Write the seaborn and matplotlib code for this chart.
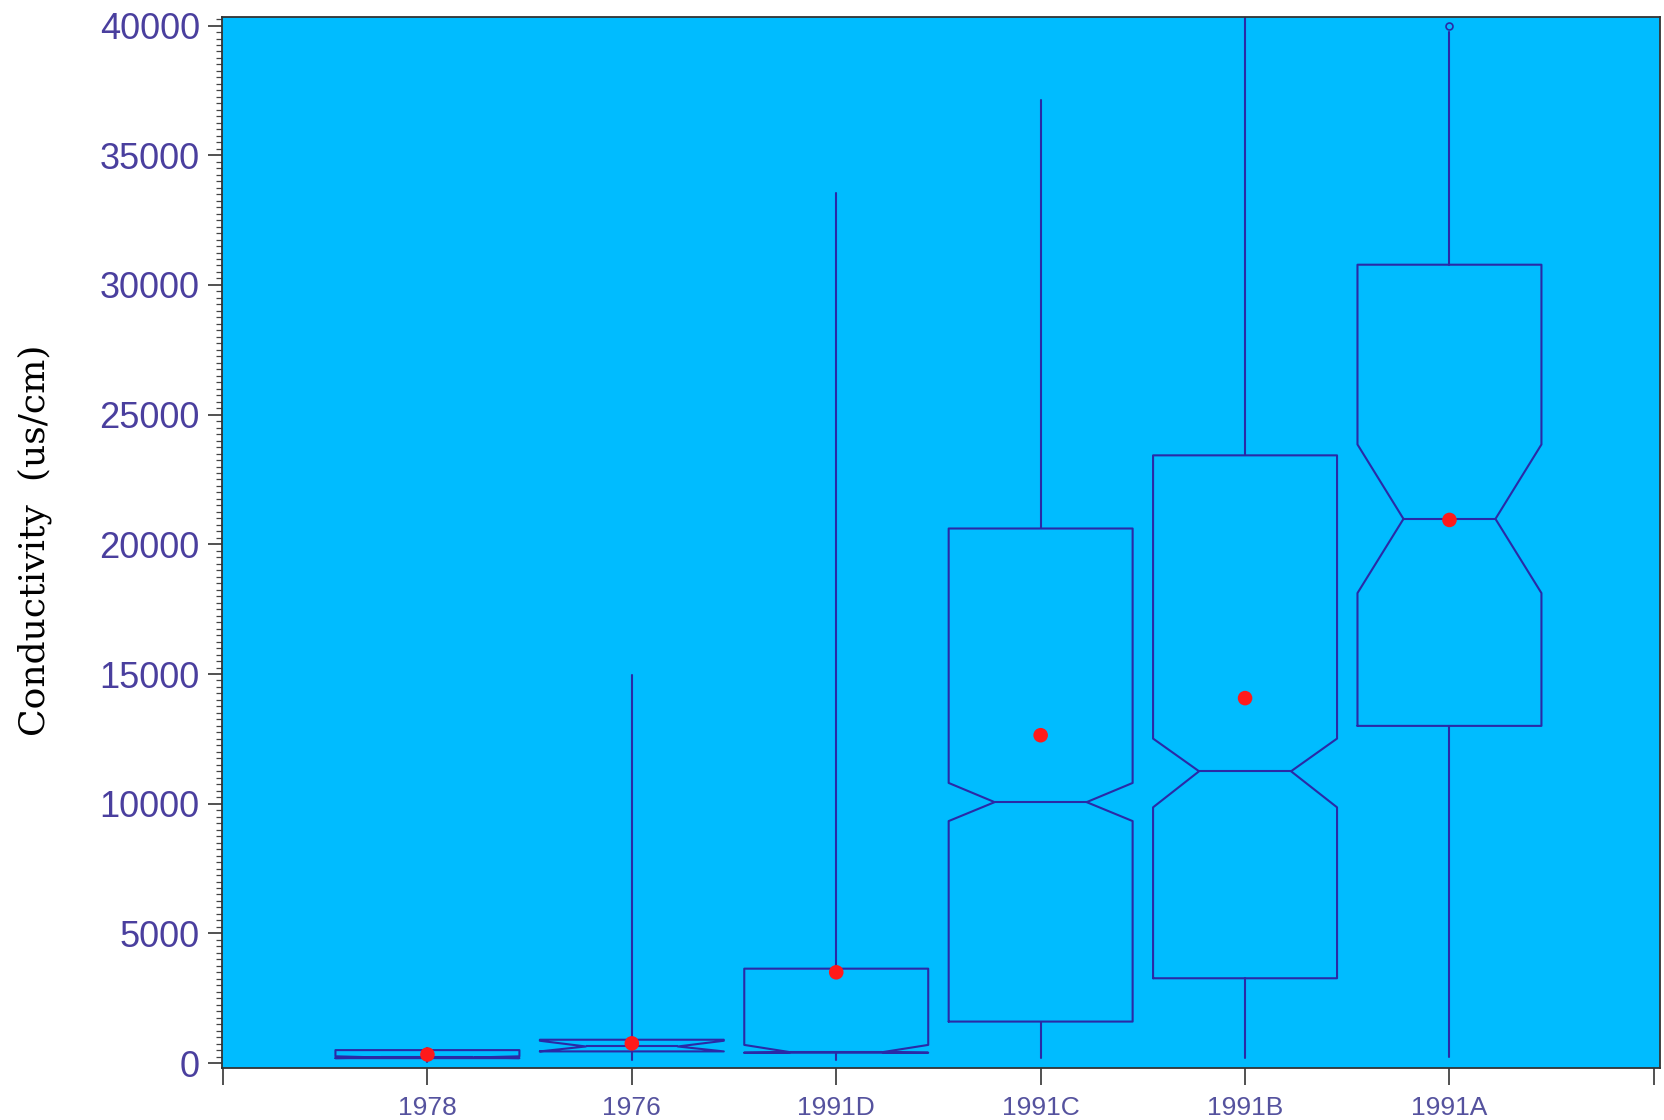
import numpy as np
import pandas as pd
import matplotlib
matplotlib.use("Agg")
import matplotlib.pyplot as plt
import seaborn as sns
from matplotlib.ticker import MultipleLocator, FixedLocator

# ---- data ----
sites = ["1978", "1976", "1991D", "1991C", "1991B", "1991A"]
q1 = [190, 450, 400, 1600, 3270, 13000]
median = [215, 640, 420, 10060, 11250, 20980]
q3 = [500, 900, 3640, 20610, 23430, 30780]
notch_lo = [190, 450, 400, 9330, 9860, 18120]
notch_hi = [260, 860, 700, 10800, 12510, 23850]
whisker_lo = [60, 100, 120, 200, 200, 250]
whisker_hi = [600, 14950, 33540, 37140, 40400, 39750]
means = [330, 760, 3500, 12640, 14070, 20940]
outliers = [[], [], [], [], [], [40000]]

# ---- style ----
sns.set_theme(style="ticks")
plt.rcParams["font.family"] = ["Liberation Sans", "DejaVu Sans"]

BG = "#00BCFF"
LINE = "#2A2AA6"
YTICK = "#4A3F9E"
XTICK = "#55529E"

fig = plt.figure(figsize=(16.65, 11.2), dpi=100)
ax = fig.add_axes([222 / 1665, 1 - 1068 / 1120, (1660 - 222) / 1665, (1068 - 17) / 1120])
ax.set_facecolor(BG)

stats = []
for i, s in enumerate(sites):
    stats.append(dict(label=s, q1=q1[i], med=median[i], q3=q3[i],
                      cilo=notch_lo[i], cihi=notch_hi[i],
                      whislo=whisker_lo[i], whishi=whisker_hi[i],
                      fliers=np.array(outliers[i], dtype=float)))

positions = np.arange(1, len(sites) + 1)
ax.bxp(stats, positions=positions, widths=0.9, shownotches=True,
       showcaps=False, patch_artist=False,
       boxprops=dict(color=LINE, linewidth=1.5),
       whiskerprops=dict(color=LINE, linewidth=1.5),
       medianprops=dict(color=LINE, linewidth=1.5),
       flierprops=dict(marker="o", markersize=5, markerfacecolor="none",
                       markeredgecolor=LINE, markeredgewidth=1.2),
       manage_ticks=False)

mean_df = pd.DataFrame({"pos": positions, "mean": means})
sns.scatterplot(data=mean_df, x="pos", y="mean", color="#FF1A1A", s=110,
                edgecolor="none", zorder=5, ax=ax, legend=False)

ax.set_xlim(-0.005, 7.03)
ax.set_ylim(-190, 40330)

ax.xaxis.set_major_locator(FixedLocator(list(range(0, 8))))
ax.set_xticklabels([""] + sites + [""])
ax.yaxis.set_major_locator(MultipleLocator(5000))
ax.yaxis.set_minor_locator(MultipleLocator(250))

ax.tick_params(axis="y", which="major", length=10, width=1.2, color="#333333",
               labelsize=26, labelcolor=YTICK, pad=6, direction="out")
ax.tick_params(axis="y", which="minor", length=4, width=0.9, color="#444444",
               direction="out")
ax.tick_params(axis="x", which="major", length=12, width=1.2, color="#333333",
               labelsize=19, labelcolor=XTICK, pad=8, direction="out")

ax.set_xlabel("")
ax.set_ylabel("")
for sp in ax.spines.values():
    sp.set_visible(True)
    sp.set_color("#333333")
    sp.set_linewidth(1.3)

fig.text(35 / 1665, 1 - 540 / 1120, "Conductivity  (us/cm)", rotation=90,
         ha="center", va="center", fontsize=26, fontweight="medium",
         color="black", family=["DejaVu Serif"])

fig.savefig("out.png", dpi=100, facecolor="white")
